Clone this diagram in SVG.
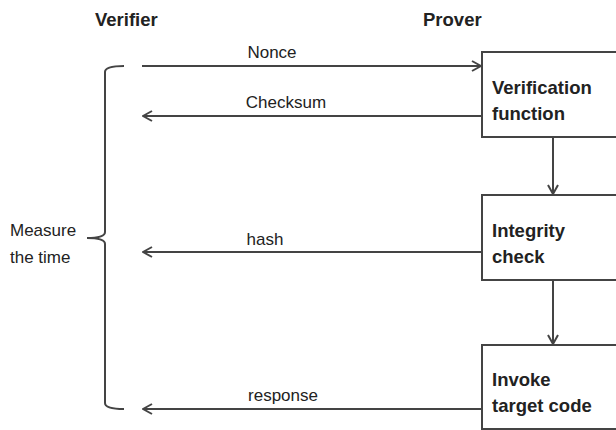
<svg xmlns="http://www.w3.org/2000/svg" width="616" height="430" viewBox="0 0 616 430">
<style>
.hdr{font-family:"Liberation Sans",Arial,sans-serif;font-weight:bold;font-size:18.5px;fill:#222}
.lbl{font-family:"Liberation Sans",Arial,sans-serif;font-size:17px;fill:#222}
.btx{font-family:"Liberation Sans",Arial,sans-serif;font-weight:bold;font-size:18.5px;fill:#222}
.box{fill:#fff;stroke:#444;stroke-width:2}
.con{fill:none;stroke:#444;stroke-width:2}
</style>
<defs>
<marker id="ah" viewBox="0 0 12 12" refX="11" refY="6" markerWidth="12" markerHeight="12" markerUnits="userSpaceOnUse" orient="auto">
<path d="M2,1 L11,6 L2,11" fill="none" stroke="#444" stroke-width="2"/>
</marker>
</defs>
<text class="hdr" x="95" y="26">Verifier</text>
<text class="hdr" x="423" y="26">Prover</text>
<g id="n1"><rect class="box" x="482" y="52" width="140" height="85"/><text class="btx" x="492" y="94">Verification</text><text class="btx" x="492" y="120">function</text></g>
<g id="n2"><rect class="box" x="482" y="195" width="140" height="85"/><text class="btx" x="492" y="237">Integrity</text><text class="btx" x="492" y="263">check</text></g>
<g id="n3"><rect class="box" x="482" y="345" width="140" height="84"/><text class="btx" x="492" y="386">Invoke</text><text class="btx" x="492" y="412">target code</text></g>
<g id="brace"><path class="con" d="M124,66 Q105,66 105,72 L105,232 Q105,238 87,238 Q105,238 105,244 L105,403 Q105,409 124,409"/><text class="lbl" x="10" y="236">Measure</text><text class="lbl" x="10" y="263">the time</text></g>
<g id="connectors">
<line class="con" x1="142" y1="66" x2="481" y2="66" marker-end="url(#ah)"/>
<line class="con" x1="482" y1="116" x2="143" y2="116" marker-end="url(#ah)"/>
<line class="con" x1="482" y1="252" x2="143" y2="252" marker-end="url(#ah)"/>
<line class="con" x1="482" y1="409" x2="143" y2="409" marker-end="url(#ah)"/>
<line class="con" x1="553" y1="137" x2="553" y2="194" marker-end="url(#ah)"/>
<line class="con" x1="553" y1="280" x2="553" y2="344" marker-end="url(#ah)"/>
<text class="lbl" x="272" y="58" text-anchor="middle">Nonce</text>
<text class="lbl" x="286" y="108" text-anchor="middle">Checksum</text>
<text class="lbl" x="265" y="245" text-anchor="middle">hash</text>
<text class="lbl" x="283" y="401" text-anchor="middle">response</text>
</g>
</svg>
